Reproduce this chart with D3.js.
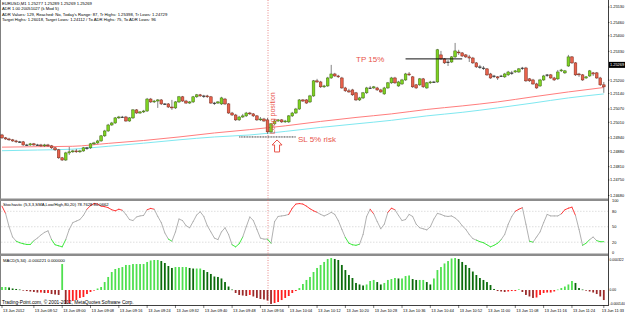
<!DOCTYPE html>
<html>
<head>
<meta charset="utf-8">
<script src="https://cdn.jsdelivr.net/npm/d3@7"></script>
<style>
  body { margin: 0; background: #fff; }
  svg { display: block; }
  text { font-family: "Liberation Sans", Arial, sans-serif; }
</style>
</head>
<body>
<div id="chart"></div>
<script>
/**
 * DATA (EURUSD M1, 13 Jun 2012, one value per bar, bar 0 = 08:43)
 * */
const open = [1.24953,1.24940,1.24935,1.24931,1.24926,1.24922,1.24922,1.24908,1.24908,1.24913,
  1.24908,1.24908,1.24904,1.24908,1.24904,1.24895,1.24886,1.24850,1.24840,1.24872,
  1.24877,1.24881,1.24877,1.24881,1.24895,1.24895,1.24913,1.24917,1.24926,1.24949,
  1.24971,1.24998,1.25007,1.25030,1.25034,1.25034,1.25016,1.25030,1.25066,1.25052,
  1.25057,1.25061,1.25115,1.25102,1.25106,1.25111,1.25093,1.25093,1.25079,1.25075,
  1.25102,1.25125,1.25106,1.25097,1.25102,1.25125,1.25134,1.25129,1.25129,1.25125,
  1.25097,1.25097,1.25093,1.25115,1.25093,1.25052,1.25043,1.25021,1.25034,1.25039,
  1.25052,1.25048,1.25039,1.25021,1.25025,1.25021,1.24967,1.25003,1.25016,1.25021,
  1.25012,1.25012,1.25039,1.25052,1.25070,1.25111,1.25111,1.25102,1.25129,1.25197,
  1.25192,1.25170,1.25174,1.25210,1.25228,1.25219,1.25210,1.25165,1.25152,1.25156,
  1.25143,1.25111,1.25120,1.25143,1.25165,1.25165,1.25165,1.25156,1.25138,1.25165,
  1.25188,1.25210,1.25174,1.25183,1.25201,1.25228,1.25215,1.25179,1.25179,1.25206,
  1.25165,1.25188,1.25192,1.25192,1.25314,1.25296,1.25282,1.25282,1.25305,1.25327,
  1.25323,1.25314,1.25305,1.25300,1.25278,1.25260,1.25255,1.25251,1.25228,1.25219,
  1.25215,1.25219,1.25215,1.25224,1.25233,1.25237,1.25237,1.25255,1.25255,1.25206,
  1.25201,1.25183,1.25174,1.25201,1.25224,1.25224,1.25210,1.25206,1.25242,1.25233,
  1.25264,1.25305,1.25278,1.25228,1.25224,1.25210,1.25219,1.25233,1.25233,1.25210,
  1.25179];
const close = [1.24940,1.24935,1.24931,1.24926,1.24922,1.24922,1.24908,1.24908,1.24913,1.24908,
  1.24908,1.24904,1.24908,1.24904,1.24895,1.24886,1.24850,1.24840,1.24872,1.24877,
  1.24881,1.24877,1.24881,1.24895,1.24895,1.24913,1.24917,1.24926,1.24949,1.24971,
  1.24998,1.25007,1.25030,1.25034,1.25034,1.25016,1.25030,1.25066,1.25052,1.25057,
  1.25061,1.25115,1.25102,1.25106,1.25111,1.25093,1.25093,1.25079,1.25075,1.25102,
  1.25125,1.25106,1.25097,1.25102,1.25125,1.25134,1.25129,1.25129,1.25125,1.25097,
  1.25097,1.25102,1.25120,1.25093,1.25052,1.25043,1.25021,1.25034,1.25039,1.25052,
  1.25048,1.25039,1.25021,1.25025,1.25016,1.24967,1.25003,1.25016,1.25021,1.25012,
  1.25016,1.25039,1.25052,1.25070,1.25111,1.25106,1.25097,1.25129,1.25197,1.25192,
  1.25170,1.25174,1.25210,1.25228,1.25219,1.25215,1.25165,1.25152,1.25147,1.25134,
  1.25111,1.25120,1.25143,1.25165,1.25165,1.25170,1.25156,1.25147,1.25165,1.25188,
  1.25210,1.25188,1.25192,1.25201,1.25228,1.25224,1.25170,1.25165,1.25206,1.25170,
  1.25188,1.25192,1.25192,1.25337,1.25296,1.25278,1.25282,1.25305,1.25332,1.25323,
  1.25309,1.25305,1.25300,1.25278,1.25260,1.25260,1.25255,1.25224,1.25210,1.25219,
  1.25210,1.25219,1.25228,1.25237,1.25233,1.25242,1.25251,1.25255,1.25197,1.25197,
  1.25183,1.25165,1.25201,1.25219,1.25224,1.25210,1.25201,1.25237,1.25246,1.25242,
  1.25305,1.25278,1.25224,1.25224,1.25201,1.25215,1.25242,1.25228,1.25210,1.25179,
  1.25170];
const high = [1.24958,1.24944,1.24940,1.24935,1.24931,1.24926,1.24926,1.24913,1.24917,1.24917,
  1.24913,1.24913,1.24913,1.24913,1.24908,1.24899,1.24890,1.24854,1.24877,1.24899,
  1.24886,1.24890,1.24886,1.24899,1.24899,1.24917,1.24922,1.24931,1.24953,1.24976,
  1.25003,1.25012,1.25034,1.25039,1.25039,1.25039,1.25034,1.25070,1.25070,1.25061,
  1.25066,1.25120,1.25120,1.25111,1.25115,1.25115,1.25097,1.25097,1.25111,1.25106,
  1.25129,1.25129,1.25111,1.25106,1.25129,1.25138,1.25138,1.25134,1.25134,1.25129,
  1.25102,1.25106,1.25125,1.25120,1.25097,1.25057,1.25048,1.25039,1.25048,1.25057,
  1.25057,1.25052,1.25043,1.25034,1.25030,1.25030,1.25007,1.25025,1.25025,1.25025,
  1.25021,1.25043,1.25057,1.25075,1.25115,1.25115,1.25115,1.25134,1.25201,1.25206,
  1.25197,1.25179,1.25215,1.25269,1.25233,1.25224,1.25215,1.25170,1.25161,1.25161,
  1.25147,1.25125,1.25147,1.25170,1.25174,1.25174,1.25170,1.25161,1.25170,1.25192,
  1.25215,1.25215,1.25197,1.25206,1.25233,1.25237,1.25219,1.25183,1.25210,1.25210,
  1.25192,1.25197,1.25197,1.25341,1.25332,1.25300,1.25291,1.25309,1.25368,1.25337,
  1.25327,1.25318,1.25314,1.25305,1.25282,1.25269,1.25264,1.25255,1.25233,1.25224,
  1.25219,1.25224,1.25233,1.25242,1.25242,1.25246,1.25255,1.25260,1.25260,1.25210,
  1.25206,1.25188,1.25206,1.25224,1.25228,1.25228,1.25215,1.25246,1.25251,1.25246,
  1.25314,1.25309,1.25282,1.25233,1.25228,1.25219,1.25246,1.25237,1.25237,1.25215,
  1.25192];
const low = [1.24935,1.24931,1.24926,1.24922,1.24917,1.24917,1.24904,1.24904,1.24904,1.24904,
  1.24904,1.24899,1.24899,1.24899,1.24890,1.24881,1.24845,1.24836,1.24836,1.24863,
  1.24872,1.24872,1.24872,1.24877,1.24886,1.24890,1.24908,1.24913,1.24922,1.24944,
  1.24967,1.24994,1.25003,1.25025,1.25030,1.25012,1.25012,1.25025,1.25048,1.25048,
  1.25052,1.25057,1.25097,1.25097,1.25075,1.25088,1.25088,1.25075,1.25066,1.25070,
  1.25097,1.25102,1.25093,1.25093,1.25097,1.25120,1.25125,1.25120,1.25120,1.25093,
  1.25088,1.25093,1.25088,1.25088,1.25048,1.25039,1.25016,1.25016,1.25030,1.25034,
  1.25043,1.25034,1.25016,1.25016,1.25012,1.24958,1.24962,1.24998,1.25012,1.25007,
  1.25007,1.25007,1.25034,1.25048,1.25066,1.25102,1.25093,1.25097,1.25125,1.25188,
  1.25165,1.25165,1.25170,1.25206,1.25215,1.25210,1.25161,1.25147,1.25143,1.25129,
  1.25106,1.25106,1.25115,1.25138,1.25161,1.25161,1.25152,1.25143,1.25134,1.25161,
  1.25183,1.25183,1.25170,1.25179,1.25197,1.25219,1.25165,1.25161,1.25174,1.25165,
  1.25161,1.25183,1.25188,1.25188,1.25291,1.25273,1.25264,1.25278,1.25300,1.25314,
  1.25305,1.25300,1.25282,1.25273,1.25255,1.25251,1.25246,1.25219,1.25206,1.25210,
  1.25201,1.25215,1.25210,1.25219,1.25224,1.25233,1.25233,1.25246,1.25192,1.25192,
  1.25179,1.25161,1.25170,1.25197,1.25215,1.25206,1.25197,1.25201,1.25237,1.25228,
  1.25260,1.25273,1.25219,1.25215,1.25197,1.25206,1.25215,1.25219,1.25206,1.25174,
  1.25143];

// moving averages, read every 10 bars
const maBars = [0,10,20,30,40,50,60,70,80,90,100,110,120,130,140,150,160,170];
const maSlow = [1.24898,1.24900,1.24902,1.24915,1.24928,1.24944,1.24962,1.24977,1.24994,
  1.25014,1.25032,1.25048,1.25068,1.25084,1.25102,1.25125,1.25147,1.25167];
const maFast = [1.24882,1.24885,1.24889,1.24902,1.24916,1.24931,1.24944,1.24953,1.24969,
  1.24987,1.25003,1.25019,1.25039,1.25055,1.25075,1.25097,1.25120,1.25138];

const stoch = [90,76,50,30,22,19,17,15.6,15.6,23,
  28,34,39,42,25,15,13,11,25,45,
  58,61,64,72,84,91,95,94,90,89,
  87,83,81,84,82,74,64,62,69,71,
  72,83,85.6,84,70,58,38,26,22,40,
  65,62,52,48,60,73,79,70,52,40,
  28,25,40,48,35,15,11,17,30,50,
  69,62,45,28,26,26,18,60,70,71,
  72,74,86,94,95,94,90,85,81,78,
  74,71,74,78,74,62,45,29,18,15,
  14,16,35,70,84,75,60,46,55,78,
  86,83,72,62,64,74,70,55,48,46,
  44,50,65,76,74,71,70,71,67,61,
  52,45,35,27,24,21,19,15,11,14,
  18,25,35,55,70,80,84,87,55,22,
  20,30,40,58,74,71,71,71,75,83,
  86,88,72,45,14,18,25,30,23,21,
  21];

const macd = [0.000032,0.000032,0.000027,0.000016,0.000011,0.000005,-0.000005,-0.000011,-0.000016,-0.000021,
  -0.000027,-0.000027,-0.000032,-0.000032,-0.000043,-0.000048,-0.000053,0.000277,-0.000149,-0.000139,
  -0.000117,-0.000107,-0.000085,-0.000075,-0.000043,-0.000021,-0.000005,0.000016,0.000032,0.000085,
  0.000139,0.000192,0.000224,0.000235,0.000245,0.000267,0.000267,0.000277,0.000277,0.000277,
  0.000277,0.000299,0.000315,0.000320,0.000320,0.000309,0.000288,0.000256,0.000235,0.000245,
  0.000245,0.000245,0.000245,0.000235,0.000229,0.000229,0.000229,0.000213,0.000192,0.000171,
  0.000144,0.000139,0.000123,0.000085,0.000037,0.000005,-0.000032,-0.000053,-0.000059,-0.000064,
  -0.000053,-0.000069,-0.000085,-0.000096,-0.000101,-0.000112,-0.000149,-0.000139,-0.000128,-0.000107,
  -0.000085,-0.000064,-0.000032,-0.000011,0.000021,0.000064,0.000107,0.000139,0.000192,0.000235,
  0.000267,0.000299,0.000331,0.000341,0.000331,0.000320,0.000267,0.000213,0.000160,0.000128,
  0.000075,0.000059,0.000048,0.000059,0.000096,0.000107,0.000085,0.000059,0.000075,0.000107,
  0.000117,0.000128,0.000123,0.000123,0.000149,0.000155,0.000117,0.000107,0.000107,0.000107,
  0.000085,0.000059,0.000123,0.000213,0.000245,0.000283,0.000309,0.000336,0.000341,0.000331,
  0.000299,0.000267,0.000235,0.000197,0.000160,0.000128,0.000107,0.000085,0.000053,0.000011,
  -0.000011,-0.000016,-0.000021,-0.000016,-0.000011,-0.000011,0.000007,-0.000021,-0.000053,-0.000069,
  -0.000085,-0.000080,-0.000053,-0.000032,-0.000027,-0.000027,-0.000016,0.000005,0.000021,0.000037,
  0.000059,0.000096,0.000075,0.000021,0.000005,-0.000007,-0.000016,-0.000027,-0.000043,-0.000069,
  -0.000107];

// axes
const timeTickBars = [0,9,17,25,33,41,49,57,65,73,81,89,97,105,113,121,129,137,145,153,161,170];
const timeTickLabels = ["13 Jun 2012","13 Jun 08:52","13 Jun 09:00","13 Jun 09:08","13 Jun 09:16",
  "13 Jun 09:24","13 Jun 09:32","13 Jun 09:40","13 Jun 09:48","13 Jun 09:56","13 Jun 10:04",
  "13 Jun 10:12","13 Jun 10:20","13 Jun 10:28","13 Jun 10:36","13 Jun 10:44","13 Jun 10:52",
  "13 Jun 11:00","13 Jun 11:08","13 Jun 11:16","13 Jun 11:24","13 Jun 11:33"];
const priceTicks = [1.25530,1.25460,1.25400,1.25330,1.25200,1.25140,1.25070,1.25010,
  1.24940,1.24880,1.24810,1.24750,1.24680];
const lastPrice = 1.25269;
const stochTicks = [100,80,50,20,0];
const stochLevels = [80,50,20];
const macdTicks = [0.000322,0,-0.000140];
const macdTickLabels = ["0.000322","0.00","-0.000140"];

// trade notes drawn on the chart
const entryBar = 75;
const tpLevel = 1.25296, tpFrom = 114, tpTo = 130;
const slLevel = 1.24944, slFrom = 67, slTo = 83;

const headerLines = [
  "EURUSD,M1  1.25277 1.25289 1.25269 1.25269",
  "ADR 1.00 20051027 (k Mod 5)",
  "ADR Values: 129, Reached: No, Today's Range: 87, Tr Highs: 1.25398, Tr Lows: 1.24729",
  "Target Highs: 1.26018, Target Lows: 1.24112 / To ADR Highs: 75, To ADR Lows: 96"
];
const stochLabel = "Stochastic (5,3,3,SMA,Low/High,80,20) 78.7628 80.0662";
const macdLabel = "MACD(5,34) -0.000221 0.000000";
const copyright = "Trading-Point.com, \u00a9 2001-2012, MetaQuotes Software Corp.";

/**
 * CONSTANTS
 * */
const width = 625, height = 315;
const axisX = 608;
const fs = 4.2;   // tiny terminal font
const fsAxis = 3.9;

const bars = open.map((o, i) => ({ i, o, h: high[i], l: low[i], c: close[i] }));

const x = d3.scaleLinear().domain([0, 170]).range([2, 603.8]);
const yPrice = d3.scaleLinear().domain([1.2468, 1.2553]).range([195.5, 7]);
const yStoch = d3.scaleLinear().domain([0, 100]).range([252.5, 201]);
const yMacd = d3.scaleLinear().domain([-0.00016, 0.00032]).range([305, 260]);

const svg = d3.select("#chart").append("svg")
  .attr("width", width)
  .attr("height", height);

svg.append("rect").attr("width", width).attr("height", height).attr("fill", "#fff");

// frame + panel separators
svg.append("line").attr("x1", 0.5).attr("x2", 0.5).attr("y1", 0).attr("y2", 305)
  .attr("stroke", "#808080");
svg.append("line").attr("x1", axisX + 0.5).attr("x2", axisX + 0.5).attr("y1", 0).attr("y2", 306)
  .attr("stroke", "#404040");
svg.append("line").attr("x1", 0).attr("x2", axisX).attr("y1", 305.5).attr("y2", 305.5)
  .attr("stroke", "#404040");
[198.5, 253.5].forEach(y => {
  svg.append("rect").attr("x", 0).attr("y", y).attr("width", axisX).attr("height", 2.5)
    .attr("fill", "#8c8c8c");
});

// entry marker line through all panels
svg.append("line")
  .attr("x1", x(entryBar) + 0.5).attr("x2", x(entryBar) + 0.5)
  .attr("y1", 0).attr("y2", 305)
  .attr("stroke", "#e36b6b").attr("stroke-width", 0.8).attr("stroke-dasharray", "1,1.5");

/**
 * MAIN PANEL
 * */
const line = d3.line().x((d, k) => x(maBars[k])).y(d => yPrice(d)).curve(d3.curveMonotoneX);
svg.append("path").attr("d", line(maSlow)).attr("fill", "none")
  .attr("stroke", "#ff7d7d").attr("stroke-width", 1);
svg.append("path").attr("d", line(maFast)).attr("fill", "none")
  .attr("stroke", "#7fe8f0").attr("stroke-width", 1);

const candles = svg.append("g");
candles.selectAll("line.wick").data(bars).join("line")
  .attr("class", "wick")
  .attr("x1", d => x(d.i)).attr("x2", d => x(d.i))
  .attr("y1", d => yPrice(d.h)).attr("y2", d => yPrice(d.l))
  .attr("stroke", "#5a5a5a").attr("stroke-width", 0.75);
candles.selectAll("rect.body").data(bars).join("rect")
  .attr("class", "body")
  .attr("x", d => x(d.i) - 1.35)
  .attr("width", 2.7)
  .attr("y", d => yPrice(Math.max(d.o, d.c)))
  .attr("height", d => Math.max(0.7, Math.abs(yPrice(d.o) - yPrice(d.c))))
  .attr("fill", d => d.c > d.o ? "#7ed321" : d.c < d.o ? "#e8614b" : "#333")
  .attr("stroke", d => d.c > d.o ? "#3f6b10" : d.c < d.o ? "#7a2a1c" : "#333")
  .attr("stroke-width", 0.5);

// TP / SL levels
svg.append("line")
  .attr("x1", x(tpFrom)).attr("x2", x(tpTo))
  .attr("y1", yPrice(tpLevel)).attr("y2", yPrice(tpLevel))
  .attr("stroke", "#111").attr("stroke-width", 1);
svg.append("line")
  .attr("x1", x(slFrom)).attr("x2", x(slTo))
  .attr("y1", yPrice(slLevel)).attr("y2", yPrice(slLevel))
  .attr("stroke", "#333").attr("stroke-width", 1).attr("stroke-dasharray", "1,0.6");

svg.append("text").text("TP 15%")
  .attr("x", x(100)).attr("y", yPrice(tpLevel) + 3)
  .attr("font-size", 8).attr("fill", "#e8534a");
svg.append("text").text("SL 5% risk")
  .attr("x", x(83.6)).attr("y", yPrice(slLevel) + 5)
  .attr("font-size", 8).attr("fill", "#e8534a");
svg.append("text").text("Long position")
  .attr("transform", `translate(${x(entryBar) + 7},${yPrice(slLevel) - 3}) rotate(-90)`)
  .attr("font-size", 7).attr("fill", "#e8534a");

// hollow up arrow under the entry
const ax = x(entryBar + 2.7), ay = yPrice(slLevel) + 3;
svg.append("path")
  .attr("d", `M${ax},${ay} l5,5 h-2.5 v7 h-5 v-7 h-2.5 z`)
  .attr("fill", "#fff").attr("stroke", "#e8534a").attr("stroke-width", 1);

/**
 * STOCHASTIC PANEL
 * */
stochLevels.forEach(v => {
  svg.append("line").attr("x1", 1).attr("x2", axisX)
    .attr("y1", yStoch(v)).attr("y2", yStoch(v))
    .attr("stroke", "#c8c8c8").attr("stroke-width", 0.6).attr("stroke-dasharray", "1.5,1.5");
});
const segs = d3.pairs(stoch.map((v, i) => ({ i, v })));
svg.append("g").selectAll("line").data(segs).join("line")
  .attr("x1", d => x(d[0].i)).attr("y1", d => yStoch(d[0].v))
  .attr("x2", d => x(d[1].i)).attr("y2", d => yStoch(d[1].v))
  .attr("stroke", d => {
    const m = (d[0].v + d[1].v) / 2;
    return m >= 79 ? "#ff2a2a" : m <= 24 ? "#2ee62e" : "#a8a8a8";
  })
  .attr("stroke-width", 0.9).attr("stroke-linecap", "round");

/**
 * MACD PANEL
 * */
svg.append("g").selectAll("rect").data(macd).join("rect")
  .attr("x", (d, i) => x(i) - 0.9)
  .attr("width", 1.8)
  .attr("y", d => yMacd(Math.max(0, d)))
  .attr("height", d => Math.max(0.6, Math.abs(yMacd(d) - yMacd(0))))
  .attr("fill", (d, i) => {
    const up = i === 0 || d >= macd[i - 1];
    if (d >= 0) return up ? "#4fe04f" : "#0b6b0b";
    return up ? "#ff2020" : "#9b2b2b";
  });

/**
 * TEXTS AND AXES
 * */
svg.append("g").selectAll("text").data(headerLines).join("text")
  .attr("x", 2).attr("y", (d, i) => 5 + i * 5.3)
  .attr("font-size", fs).attr("fill", "#000")
  .text(d => d);
svg.append("text").text(stochLabel).attr("x", 3).attr("y", 206)
  .attr("font-size", fs).attr("fill", "#000");
svg.append("text").text(macdLabel).attr("x", 3).attr("y", 262)
  .attr("font-size", fs).attr("fill", "#000");
svg.append("text").text(copyright).attr("x", 2).attr("y", 303.5)
  .attr("font-size", 4.8).attr("fill", "#000");

// right scale
const rightG = svg.append("g").attr("font-size", fsAxis).attr("fill", "#000");
rightG.selectAll("text.p").data(priceTicks).join("text")
  .attr("x", axisX + 2).attr("y", d => yPrice(d) + 1.4).text(d => d.toFixed(5));
rightG.selectAll("line.p").data(priceTicks).join("line")
  .attr("x1", axisX).attr("x2", axisX + 1.5).attr("y1", d => yPrice(d)).attr("y2", d => yPrice(d))
  .attr("stroke", "#000").attr("stroke-width", 0.5);
rightG.append("rect").attr("x", axisX + 1).attr("y", yPrice(lastPrice) - 3)
  .attr("width", 16).attr("height", 6).attr("fill", "#000");
rightG.append("text").attr("x", axisX + 2).attr("y", yPrice(lastPrice) + 1.4)
  .attr("fill", "#fff").text(lastPrice.toFixed(5));
rightG.selectAll("text.s").data(stochTicks).join("text")
  .attr("x", axisX + 4).attr("y", d => yStoch(d) + 1.4).text(d => d);
rightG.selectAll("text.m").data(macdTicks).join("text")
  .attr("x", axisX + 1.5).attr("y", d => yMacd(d) + 1.4)
  .attr("font-size", 3.4).text((d, i) => macdTickLabels[i]);

// time scale, the last label is pushed against the right edge
const timeG = svg.append("g").attr("font-size", fsAxis).attr("fill", "#000");
timeG.selectAll("line").data(timeTickBars).join("line")
  .attr("x1", d => x(d)).attr("x2", d => x(d)).attr("y1", 305).attr("y2", 308)
  .attr("stroke", "#000").attr("stroke-width", 0.5);
timeG.selectAll("text").data(timeTickBars).join("text")
  .attr("x", d => x(d) + 24 > width ? width - 1 : x(d) + 1)
  .attr("text-anchor", d => x(d) + 24 > width ? "end" : "start")
  .attr("y", 312)
  .text((d, i) => timeTickLabels[i]);
</script>
</body>
</html>
